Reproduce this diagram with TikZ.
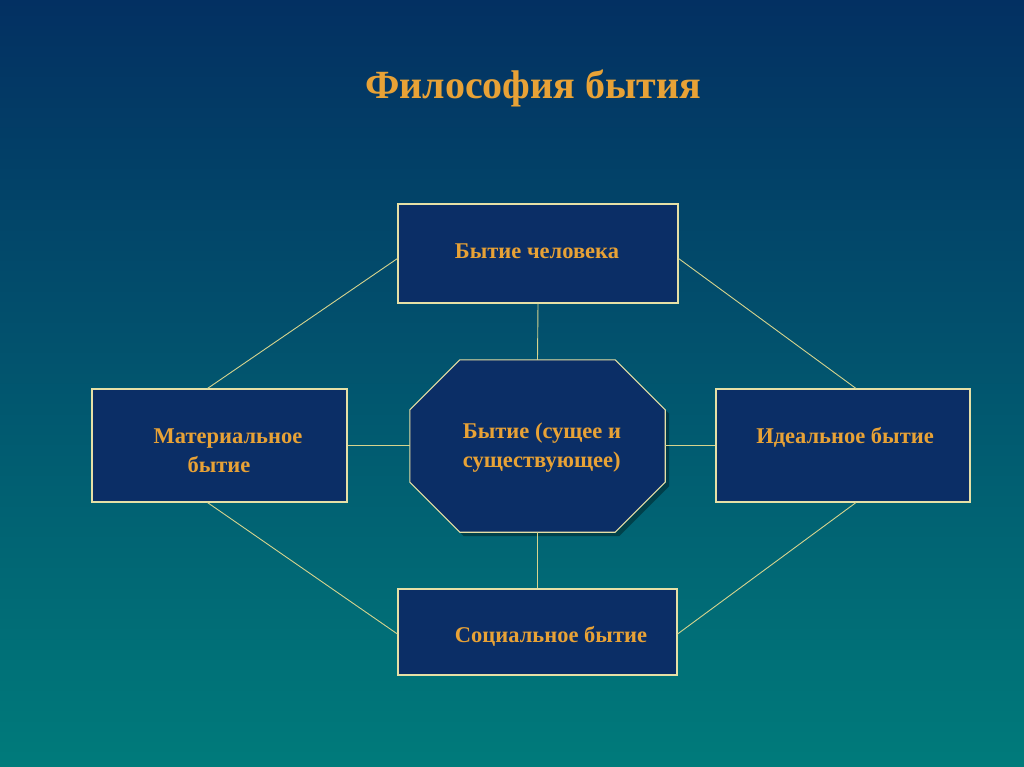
\documentclass[tikz,border=0pt]{standalone}
\usepackage{fontspec}
\setmainfont{Liberation Serif}
\usepackage{tikz}
\usetikzlibrary{shadows, calc, positioning}
\definecolor{bgtop}{HTML}{033062}
\definecolor{bgbottom}{HTML}{007B7B}
\definecolor{boxfill}{HTML}{0B2E66}
\definecolor{boxline}{HTML}{E6E0A6}
\definecolor{linkline}{HTML}{D6D48E}
\definecolor{labeltext}{HTML}{E8A236}
\tikzset{%
	every block/.style={
		rectangle,
		draw=boxline,
		fill=boxfill,
		line width=1.1pt
	},
	block label/.style={
		text=labeltext,
		font=\bfseries\fontsize{22.5}{29}\selectfont
	},
	link/.style={
		draw=linkline,
		line width=0.9pt
	},
}
\begin{document}
\begin{tikzpicture}[x=1pt, y=-1pt]
	\shade[top color=bgtop, bottom color=bgbottom] (0,0) rectangle (1024,767);
	\useasboundingbox (0,0) rectangle (1024,767);
	\node[text=labeltext, font=\bfseries\fontsize{40}{46}\selectfont] (title) at (533,88) {Философия бытия};
	% the five parts
	\node[every block, minimum width=280pt, minimum height=99pt] (human) at (538,253.5) {};
	\node[every block, minimum width=255pt, minimum height=113pt] (material) at (219.5,445.5) {};
	\node[every block, minimum width=254pt, minimum height=113pt] (ideal) at (843,445.5) {};
	\node[every block, minimum width=279pt, minimum height=86pt] (social) at (537.5,632) {};
	\node[minimum width=255pt, minimum height=172pt, inner sep=0pt] (being) at (537.5,446) {};
	\draw[every block, drop shadow={shadow xshift=4pt, shadow yshift=-4pt, fill=black, opacity=0.35}]
		($(being.north west)+(50,0)$) -- ($(being.north east)+(-50,0)$)
		-- ($(being.north east)+(0,50)$) -- ($(being.south east)+(0,-50)$)
		-- ($(being.south east)+(-50,0)$) -- ($(being.south west)+(50,0)$)
		-- ($(being.south west)+(0,-50)$) -- ($(being.north west)+(0,50)$) -- cycle;
	% labels
	\node[block label] (humanlbl) at (537,251) {Бытие человека};
	\node[block label, align=center] (materiallbl) at (228,451) {Материальное\\бытие\hspace*{18pt}};
	\node[block label] (ideallbl) at (845,437) {Идеальное бытие};
	\node[block label] (sociallbl) at (551,636) {Социальное бытие};
	\node[block label, align=left] (beinglbl) at (542,448) {Бытие (сущее и\\существующее)};
	% connectors
	\draw[link] (human.south) -- (being.north);
	\draw[link] (being.south) -- (social.north);
	\draw[link] (material.east) -- (material.east -| being.west);
	\draw[link] (being.east |- ideal.west) -- (ideal.west);
	\draw[link] ([yshift=-5pt]human.west) -- ([xshift=-12pt]material.north);
	\draw[link] ([yshift=-5pt]human.east) -- ([xshift=13pt]ideal.north);
	\draw[link] ([xshift=-12pt]material.south) -- ([yshift=-2pt]social.west);
	\draw[link] ([xshift=13pt]ideal.south) -- ([yshift=-2pt]social.east);
\end{tikzpicture}
\end{document}
